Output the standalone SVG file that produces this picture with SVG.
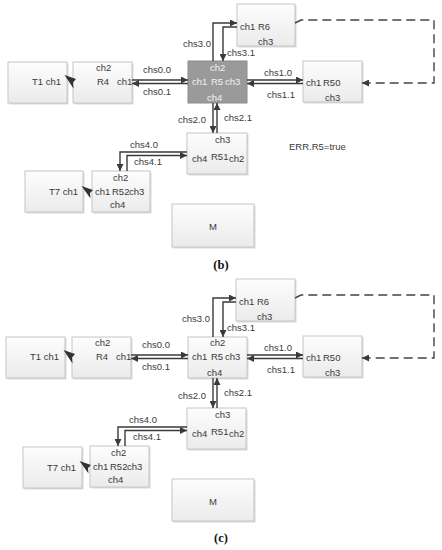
<svg xmlns="http://www.w3.org/2000/svg" width="442" height="550" viewBox="0 0 442 550">
<defs>
<linearGradient id="bg" x1="0" y1="0" x2="0" y2="1"><stop offset="0" stop-color="#fdfdfd"/><stop offset="1" stop-color="#ebebeb"/></linearGradient>
<marker id="ah" viewBox="0 0 10 10" refX="10" refY="5" markerWidth="8" markerHeight="7" markerUnits="userSpaceOnUse" orient="auto"><path d="M0,0 L10,5 L0,10 z" fill="#3a3a3a"/></marker>
</defs>
<style>
.box{fill:url(#bg);stroke:#c6c6c6;stroke-width:1}
.sh{fill:#dadada}
.hot{fill:#9a9a9a;stroke:#8c8c8c;stroke-width:1}
text{font-family:"Liberation Sans",Arial,sans-serif;font-size:9.5px;fill:#3a3a3a}
text.w{fill:#f2f2f2}
.ln{fill:none;stroke:#3a3a3a;stroke-width:1.4;marker-end:url(#ah)}
.dash{fill:none;stroke:#444;stroke-width:1.4;stroke-dasharray:9 5;marker-end:url(#ah)}
text.cap{font-family:"Liberation Serif",serif;font-weight:bold;font-size:12.5px;fill:#111}
.blob{fill:#333}
</style>
<rect width="442" height="550" fill="#fff"/>

<!-- Panel (b) -->
<g id="panel-b">
<g id="b-T1"><rect class="sh" x="9.5" y="63.5" width="59" height="41"/><rect class="box" x="8" y="62" width="59" height="41"/><text x="61" y="85" text-anchor="end">T1 ch1</text></g>
<g id="b-R4"><rect class="sh" x="74.5" y="63.5" width="59" height="41"/><rect class="box" x="73" y="62" width="59" height="41"/><text x="96" y="70.5">ch2</text><text x="97" y="85">R4</text><text x="117" y="85">ch1</text></g>
<g id="b-R5"><rect class="hot" x="188" y="61" width="59" height="42"/><text class="w" x="210" y="70.5">ch2</text><text class="w" x="192" y="85">ch1</text><text class="w" x="211" y="85">R5</text><text class="w" x="225" y="85">ch3</text><text class="w" x="207" y="100.5">ch4</text></g>
<g id="b-R6"><rect class="sh" x="238.5" y="5.5" width="58" height="42"/><rect class="box" x="237" y="4" width="58" height="42"/><text x="240" y="29.5">ch1</text><text x="258" y="29.5">R6</text><text x="258" y="44.5">ch3</text></g>
<g id="b-R50"><rect class="sh" x="304.5" y="62.5" width="59" height="41"/><rect class="box" x="303" y="61" width="59" height="41"/><text x="306" y="85.5">ch1</text><text x="323" y="85.5">R50</text><text x="325" y="100.5">ch3</text></g>
<g id="b-R51"><rect class="sh" x="188.5" y="134.5" width="60" height="41"/><rect class="box" x="187" y="133" width="60" height="41"/><text x="215" y="142.5">ch3</text><text x="192" y="161.5">ch4</text><text x="211" y="159.5">R51</text><text x="229" y="161.5">ch2</text></g>
<g id="b-R52"><rect class="sh" x="93.5" y="172.5" width="58" height="41"/><rect class="box" x="92" y="171" width="58" height="41"/><text x="113" y="180.5">ch2</text><text x="95" y="194.5">ch1</text><text x="112" y="194.5">R52</text><text x="129" y="194.5">ch3</text><text x="110" y="207.5">ch4</text></g>
<g id="b-T7"><rect class="sh" x="26.5" y="172.5" width="58" height="41"/><rect class="box" x="25" y="171" width="58" height="41"/><text x="78" y="194.5" text-anchor="end">T7 ch1</text></g>
<g id="b-M"><rect class="sh" x="173.5" y="205.5" width="82" height="43"/><rect class="box" x="172" y="204" width="82" height="43"/><text x="213" y="229.5" text-anchor="middle">M</text></g>
<g id="b-connectors">
<path class="ln" d="M132,80 H188"/>
<path class="ln" d="M188,83.5 H132"/>
<path class="ln" d="M247,80 H303"/>
<path class="ln" d="M303,83.5 H247"/>
<path class="ln" d="M213,61 V23 H237"/>
<path class="ln" d="M237,27 H223 V61"/>
<path class="ln" d="M213,103 V133"/>
<path class="ln" d="M217,133 V103"/>
<path class="ln" d="M187,152 H120 V171"/>
<path class="ln" d="M127,171 V155.5 H187"/>
<path class="dash" d="M295,23 L301,20 H434 V83 H362"/>
<polygon class="blob" points="64.5,75 76,79 73,82.5 73.5,88.5"/>
<polygon class="blob" points="81.5,186 93,190 90,193 90.5,198.5"/>
<text x="143" y="72.5">chs0.0</text>
<text x="143" y="94.5">chs0.1</text>
<text x="264" y="75.5">chs1.0</text>
<text x="267" y="97.5">chs1.1</text>
<text x="183" y="46.5">chs3.0</text>
<text x="227" y="55.5">chs3.1</text>
<text x="178" y="122.5">chs2.0</text>
<text x="224" y="120.5">chs2.1</text>
<text x="130" y="147.5">chs4.0</text>
<text x="134" y="164.5">chs4.1</text>
</g>
<text x="289" y="149.5">ERR.R5=true</text>
<text class="cap" x="221" y="269" text-anchor="middle">(b)</text>
</g>

<!-- Panel (c) -->
<g id="panel-c" transform="translate(0,275)">
<g id="c-T1"><rect class="sh" x="7.5" y="63.5" width="59" height="41"/><rect class="box" x="6" y="62" width="59" height="41"/><text x="59" y="85" text-anchor="end">T1 ch1</text></g>
<g id="c-R4"><rect class="sh" x="73.5" y="63.5" width="59" height="41"/><rect class="box" x="72" y="62" width="59" height="41"/><text x="95" y="70.5">ch2</text><text x="96" y="85">R4</text><text x="116" y="85">ch1</text></g>
<g id="c-R5"><rect class="sh" x="189.5" y="63.5" width="59" height="41"/><rect class="box" x="188" y="62" width="59" height="41"/><text x="210" y="70.5">ch2</text><text x="192" y="85">ch1</text><text x="211" y="85">R5</text><text x="225" y="85">ch3</text><text x="207" y="100.5">ch4</text></g>
<g id="c-R6"><rect class="sh" x="237.5" y="5.5" width="59" height="42"/><rect class="box" x="236" y="4" width="59" height="42"/><text x="239" y="29.5">ch1</text><text x="257" y="29.5">R6</text><text x="257" y="44.5">ch3</text></g>
<g id="c-R50"><rect class="sh" x="304.5" y="62.5" width="59" height="41"/><rect class="box" x="303" y="61" width="59" height="41"/><text x="306" y="85.5">ch1</text><text x="323" y="85.5">R50</text><text x="325" y="100.5">ch3</text></g>
<g id="c-R51"><rect class="sh" x="188.5" y="134.5" width="59" height="41"/><rect class="box" x="187" y="133" width="59" height="41"/><text x="215" y="142.5">ch3</text><text x="192" y="161.5">ch4</text><text x="211" y="159.5">R51</text><text x="229" y="161.5">ch2</text></g>
<g id="c-R52"><rect class="sh" x="91.5" y="172.5" width="59" height="41"/><rect class="box" x="90" y="171" width="59" height="41"/><text x="111" y="180.5">ch2</text><text x="93" y="194.5">ch1</text><text x="110" y="194.5">R52</text><text x="127" y="194.5">ch3</text><text x="108" y="207.5">ch4</text></g>
<g id="c-T7"><rect class="sh" x="24.5" y="173.5" width="59" height="41"/><rect class="box" x="23" y="172" width="59" height="41"/><text x="76" y="195.5" text-anchor="end">T7 ch1</text></g>
<g id="c-M"><rect class="sh" x="173.5" y="205.5" width="82" height="42"/><rect class="box" x="172" y="204" width="82" height="42"/><text x="213" y="229.5" text-anchor="middle">M</text></g>
<g id="c-connectors">
<path class="ln" d="M131,80 H188"/>
<path class="ln" d="M188,83.5 H131"/>
<path class="ln" d="M247,80 H303"/>
<path class="ln" d="M303,83.5 H247"/>
<path class="ln" d="M213,62 V23 H236"/>
<path class="ln" d="M236,27 H223 V62"/>
<path class="ln" d="M213,103 V133"/>
<path class="ln" d="M217,133 V103"/>
<path class="ln" d="M187,152 H118 V171"/>
<path class="ln" d="M125,171 V155.5 H187"/>
<path class="dash" d="M295,23 L301,20 H434 V83 H362"/>
<polygon class="blob" points="63.5,75 75,79 72,82.5 72.5,88.5"/>
<polygon class="blob" points="79.5,186 91,190 88,193 88.5,198.5"/>
<text x="142" y="72.5">chs0.0</text>
<text x="142" y="94.5">chs0.1</text>
<text x="264" y="75.5">chs1.0</text>
<text x="267" y="97.5">chs1.1</text>
<text x="182" y="46.5">chs3.0</text>
<text x="227" y="55.5">chs3.1</text>
<text x="178" y="123.5">chs2.0</text>
<text x="224" y="120.5">chs2.1</text>
<text x="129" y="147.5">chs4.0</text>
<text x="133" y="164.5">chs4.1</text>
</g>
<text class="cap" x="221" y="267" text-anchor="middle">(c)</text>
</g>
</svg>
